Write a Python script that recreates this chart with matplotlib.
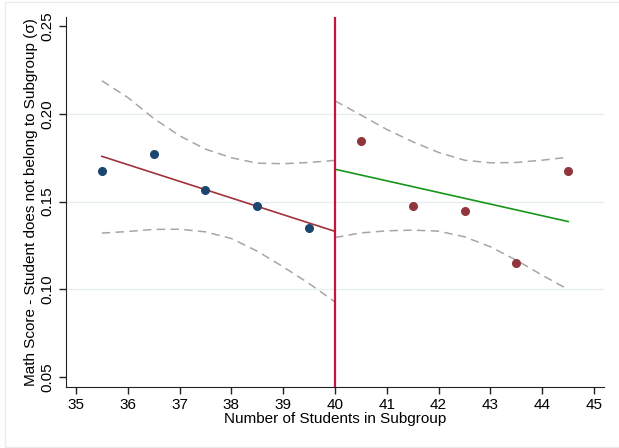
import matplotlib
matplotlib.use("Agg")
import matplotlib.pyplot as plt
import numpy as np

# binned means, left and right of the cutoff at 40
x_left = [35.5, 36.5, 37.5, 38.5, 39.5]
y_left = [0.1676, 0.1773, 0.1566, 0.1476, 0.1350]
x_right = [40.5, 41.5, 42.5, 43.5, 44.5]
y_right = [0.1847, 0.1473, 0.1447, 0.1153, 0.1676]

# 95% CI bands
ci_x_left = [35.5, 36, 36.5, 37, 37.5, 38, 38.5, 39, 39.5, 40]
ci_hi_left = [0.2188, 0.2093, 0.1974, 0.1875, 0.1799, 0.1750, 0.1719, 0.1716, 0.1723, 0.1735]
ci_lo_left = [0.1321, 0.1330, 0.1342, 0.1343, 0.1328, 0.1290, 0.1218, 0.1129, 0.1034, 0.0929]
ci_x_right = [40, 40.5, 41, 41.5, 42, 42.5, 43, 43.5, 44, 44.5]
ci_hi_right = [0.2074, 0.1993, 0.1911, 0.1841, 0.1780, 0.1736, 0.1721, 0.1723, 0.1736, 0.1753]
ci_lo_right = [0.1296, 0.1322, 0.1334, 0.1338, 0.1332, 0.1300, 0.1243, 0.1167, 0.1081, 0.1000]

cutoff = 40
xticks = list(range(35, 46))
yticks = [0.05, 0.10, 0.15, 0.20, 0.25]

plt.rcParams['font.family'] = ['Liberation Sans', 'DejaVu Sans']

fig = plt.figure(figsize=(6.19, 4.48), dpi=100)
fig.patches.append(plt.Rectangle((5 / 619, 1 / 448), 1.0, 1 - 3 / 448,
                                 transform=fig.transFigure, fill=False,
                                 edgecolor='#ececec', linewidth=1))
ax = fig.add_axes([0.1066, 0.1362, 0.8692, 0.8258])

# grid
for yv in yticks[1:-1]:
    ax.axhline(yv, color='#e6eef0', linewidth=1, zorder=0)

dash = (0, (5.5, 3.5))
ax.plot(ci_x_left, ci_hi_left, color='#a6a6a6', linewidth=1.1, linestyle=dash)
ax.plot(ci_x_left, ci_lo_left, color='#a6a6a6', linewidth=1.1, linestyle=dash)
ax.plot(ci_x_right, ci_hi_right, color='#a6a6a6', linewidth=1.1, linestyle=dash)
ax.plot(ci_x_right, ci_lo_right, color='#a6a6a6', linewidth=1.1, linestyle=dash)

# linear fits on each side
p_left = np.polyfit(x_left, y_left, 1)
p_right = np.polyfit(x_right, y_right, 1)
xl = np.array([x_left[0], cutoff])
xr = np.array([cutoff, x_right[-1]])
ax.plot(xl, np.polyval(p_left, xl), color='#a3323a', linewidth=1.2)
ax.plot(xr, np.polyval(p_right, xr), color='#17961b', linewidth=1.2)

ax.plot(x_left, y_left, 'o', color='#1a476f', markersize=5.5, zorder=4)
ax.plot(x_right, y_right, 'o', color='#90353b', markersize=5.5, zorder=4)

ax.axvline(cutoff, color='#c4153c', linewidth=1.6, zorder=3)

ax.set_xlim(34.807, 45.193)
ax.set_ylim(0.0445, 0.2551)
ax.set_xticks(xticks)
ax.set_yticks(yticks)
ax.set_yticklabels(['%.2f' % v for v in yticks], rotation=90, va='center')
ax.tick_params(labelsize=11, length=5, width=1, color='#222222', pad=3)
ax.spines['top'].set_visible(False)
ax.spines['right'].set_visible(False)
ax.spines['left'].set_color('#222222')
ax.spines['bottom'].set_color('#222222')

ax.set_xlabel('Number of Students in Subgroup', fontsize=11, labelpad=0)
ax.set_ylabel('Math Score - Student does not belong to Subgroup (σ)', fontsize=11, labelpad=2)

fig.savefig('out.png', dpi=100)
